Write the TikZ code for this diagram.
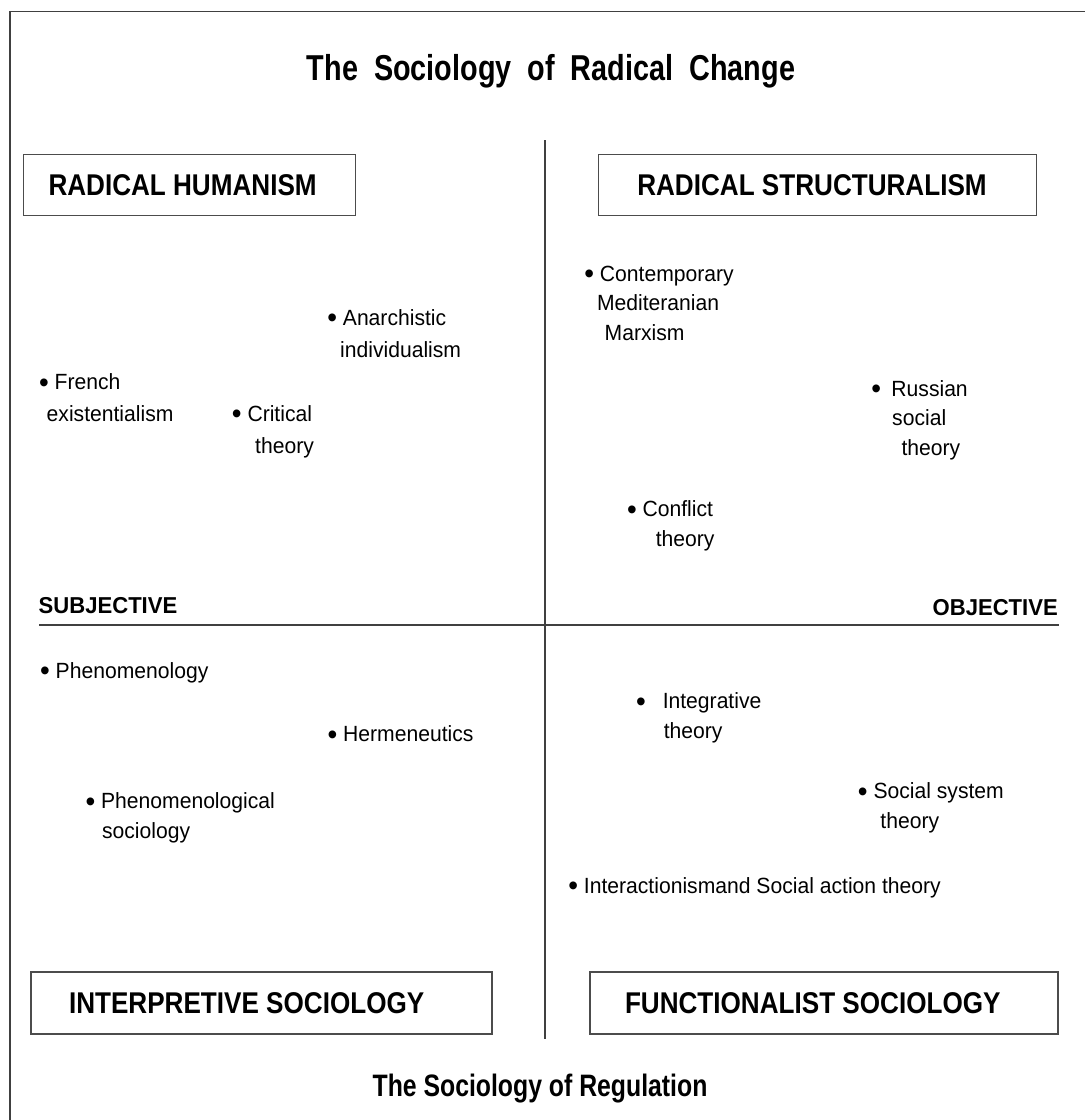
\documentclass[tikz,border=0pt]{standalone}
\usepackage{fontspec}
\newfontfamily\itemfont{Liberation Sans}[FakeStretch=0.96]
\newfontfamily\paradigmfont{Liberation Sans}[FakeStretch=0.87]
\newfontfamily\titlefont{Liberation Sans}[FakeStretch=0.8]
% a slightly larger bullet, lowered back onto the x-height
\newcommand{\itembullet}{{\fontsize{29}{29}\selectfont\raisebox{-2.5pt}{•}}}

\begin{document}
\begin{tikzpicture}[
  x=1pt, y=-1pt,
  frame/.style={draw=black!75, line width=1.5pt},
  axis/.style={draw=black!75, line width=1.2pt},
  paradigm/.style={draw=black!70, line width=1.2pt, fill=white, inner ysep=0pt, align=flush left, font=\paradigmfont\bfseries\fontsize{30}{36}\selectfont},
  item/.style={anchor=base west, inner sep=0pt, align=left, font=\itemfont\fontsize{22}{29.5}\selectfont},
  loose/.style={item, font=\itemfont\fontsize{22}{32}\selectfont},
  axislabel/.style={anchor=base west, inner sep=0pt, font=\itemfont\bfseries\fontsize{23}{28}\selectfont},
  heading/.style={anchor=base, inner sep=0pt, font=\titlefont\bfseries\fontsize{36}{42}\selectfont},
]
\fill[white] (0,0) rectangle (1085,1120);
\useasboundingbox (0,0) rectangle (1085,1120);

% outer frame (left and top edges only)
\draw[frame] (10,1120) -- (10,11.5) -- (1085,11.5);

% axes
\draw[axis] (545,140) -- (545,1039);
\draw[axis] (39,625) -- (1059,625);
\node[axislabel] (subj) at (38.5,613.3) {SUBJECTIVE};
\node[axislabel, anchor=base east] (obj) at (1058,615) {OBJECTIVE};

% headings
\node[heading] (change) at (551,80) {The~~Sociology~~of~~Radical~~Change};
\node[heading, font=\titlefont\bfseries\fontsize{31}{36}\selectfont] (regulation) at (540,1096) {The Sociology of Regulation};

% paradigm boxes
\node[paradigm, text width=282, inner xsep=25, minimum height=61] (rh) at (189.5,185.3) {RADICAL HUMANISM};
\node[paradigm, text width=360, inner xsep=39, minimum height=61] (rs) at (817.3,185.3) {RADICAL STRUCTURALISM};
\node[paradigm, text width=385, inner xsep=38, minimum height=62] (is) at (261.5,1003) {INTERPRETIVE SOCIOLOGY};
\node[paradigm, text width=398, inner xsep=35, minimum height=62] (fs) at (824,1003) {FUNCTIONALIST SOCIOLOGY};

% items sit on the baseline of their last line
% radical humanism
\node[loose] (anarch) at (327.1,357.3) {\itembullet{} Anarchistic\\\hspace*{12.9pt}individualism};
\node[loose] (french) at (38.8,421.7) {\itembullet{} French\\\hspace*{7.7pt}existentialism};
\node[loose] (critical) at (231.7,453) {\itembullet{} Critical\\\hspace*{23.3pt}theory};

% radical structuralism
\node[item] (contemp) at (584.1,340) {\itembullet{} Contemporary\\\hspace*{12.7pt}Mediteranian\\\hspace*{20.4pt}Marxism};
\node[item] (russian) at (871.1,455) {\itembullet\hspace{10.4pt}Russian\\\hspace*{20.9pt}social\\\hspace*{30.2pt}theory};
\node[item] (conflict) at (626.8,546) {\itembullet{} Conflict\\\hspace*{28.8pt}theory};

% interpretive sociology
\node[item] (phen) at (39.9,678.3) {\itembullet{} Phenomenology};
\node[item] (herm) at (327.4,741.7) {\itembullet{} Hermeneutics};
\node[item] (phensoc) at (85.3,838) {\itembullet{} Phenomenological\\\hspace*{16.6pt}sociology};

% functionalist sociology
\node[item] (integr) at (635.9,738.3) {\itembullet\hspace{16.9pt}Integrative\\\hspace*{27.7pt}theory};
\node[item] (socsys) at (857.7,828.3) {\itembullet{} Social system\\\hspace*{22.5pt}theory};
\node[item] (interact) at (568.1,893.3) {\itembullet{} Interactionismand Social action theory};

\end{tikzpicture}
\end{document}
